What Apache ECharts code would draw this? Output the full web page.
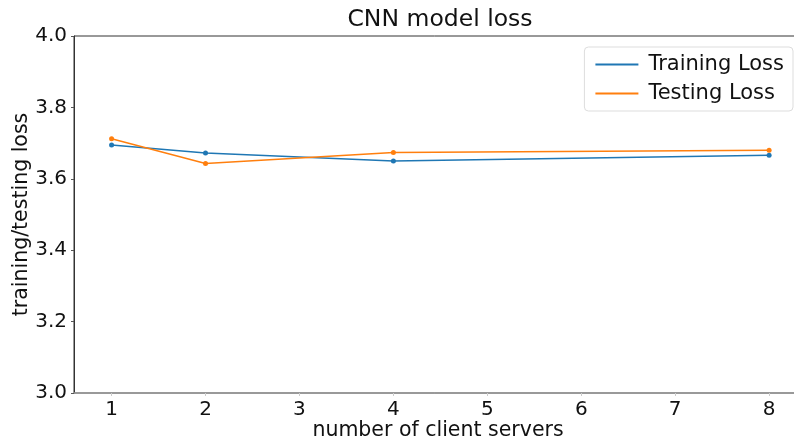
<!DOCTYPE html>
<html>
<head>
<meta charset="utf-8">
<script src="https://cdn.jsdelivr.net/npm/echarts@6/dist/echarts.min.js"></script>
<style>
  html, body { margin: 0; padding: 0; background: #fff; }
  #chart { width: 794px; height: 441px; }
</style>
</head>
<body>
<div id="chart"></div>
<script>
// Number of client servers used in each run
const clientServers = [1, 2, 4, 8];
// Loss per run
const trainingLoss = [3.695, 3.672, 3.650, 3.666];
const testingLoss  = [3.712, 3.643, 3.674, 3.680];
const xTicks = [1, 2, 3, 4, 5, 6, 7, 8];
const yTicks = [3.0, 3.2, 3.4, 3.6, 3.8, 4.0];

const FONT = 'DejaVu Sans';
const chart = echarts.init(document.getElementById('chart'), null, { renderer: 'canvas' });

const pairs = (xs, ys) => xs.map((x, i) => [x, ys[i]]);

chart.setOption({
  animation: false,
  backgroundColor: '#ffffff',
  textStyle: { fontFamily: FONT },
  title: {
    text: 'CNN model loss',
    left: 435, top: 3, textAlign: 'center',
    textStyle: { fontFamily: FONT, fontSize: 23.5, fontWeight: 'normal', color: '#111' }
  },
  grid: {
    left: 74, right: -8, top: 36, bottom: 48,
    containLabel: false, outerBoundsMode: 'none',
    show: true, borderColor: '#333', borderWidth: 1, backgroundColor: 'transparent'
  },
  legend: {
    orient: 'vertical',
    right: 1, top: 47,
    padding: [7, 9, 7, 11],
    backgroundColor: '#fff',
    borderColor: '#ddd', borderWidth: 1, borderRadius: 4,
    itemWidth: 43, itemHeight: 2, itemGap: 8,
    icon: 'rect',
    textStyle: { fontFamily: FONT, fontSize: 21, color: '#111', padding: [0, 0, 0, 5] },
    data: ['Training Loss', 'Testing Loss']
  },
  xAxis: {
    type: 'value',
    min: 0.6, max: 8.35,
    interval: 1,
    name: 'number of client servers',
    nameLocation: 'middle', nameGap: 27, nameMoveOverlap: false,
    nameTextStyle: { fontFamily: FONT, fontSize: 20.5, color: '#111' },
    axisLine: { show: true, lineStyle: { color: '#999', width: 1.5 } },
    axisTick: { show: true, length: 3, lineStyle: { color: '#ccc' }, customValues: xTicks },
    axisLabel: { fontFamily: FONT, fontSize: 20, color: '#111', margin: 7, customValues: xTicks,
      formatter: v => String(v) },
    splitLine: { show: false }
  },
  yAxis: {
    type: 'value',
    min: 3.0, max: 4.0, interval: 0.2,
    name: 'training/testing loss',
    nameLocation: 'middle', nameGap: 42, nameRotate: 90, nameMoveOverlap: false,
    nameTextStyle: { fontFamily: FONT, fontSize: 20.5, color: '#111' },
    axisLine: { show: true, lineStyle: { color: '#333', width: 1 } },
    axisTick: { show: true, length: 3, lineStyle: { color: '#555' } },
    axisLabel: { fontFamily: FONT, fontSize: 20, color: '#111', margin: 7,
      formatter: v => yTicks.find(t => Math.abs(t - v) < 1e-6).toFixed(1) },
    splitLine: { show: false }
  },
  series: [
    {
      name: 'Training Loss', type: 'line',
      data: pairs(clientServers, trainingLoss),
      color: '#1f77b4',
      lineStyle: { width: 1.5, color: '#1f77b4' },
      symbol: 'circle', symbolSize: 5, showAllSymbol: true,
      itemStyle: { color: '#1f77b4' }
    },
    {
      name: 'Testing Loss', type: 'line',
      data: pairs(clientServers, testingLoss),
      color: '#ff7f0e',
      lineStyle: { width: 1.5, color: '#ff7f0e' },
      symbol: 'circle', symbolSize: 5, showAllSymbol: true,
      itemStyle: { color: '#ff7f0e' }
    }
  ]
});
</script>
</body>
</html>
